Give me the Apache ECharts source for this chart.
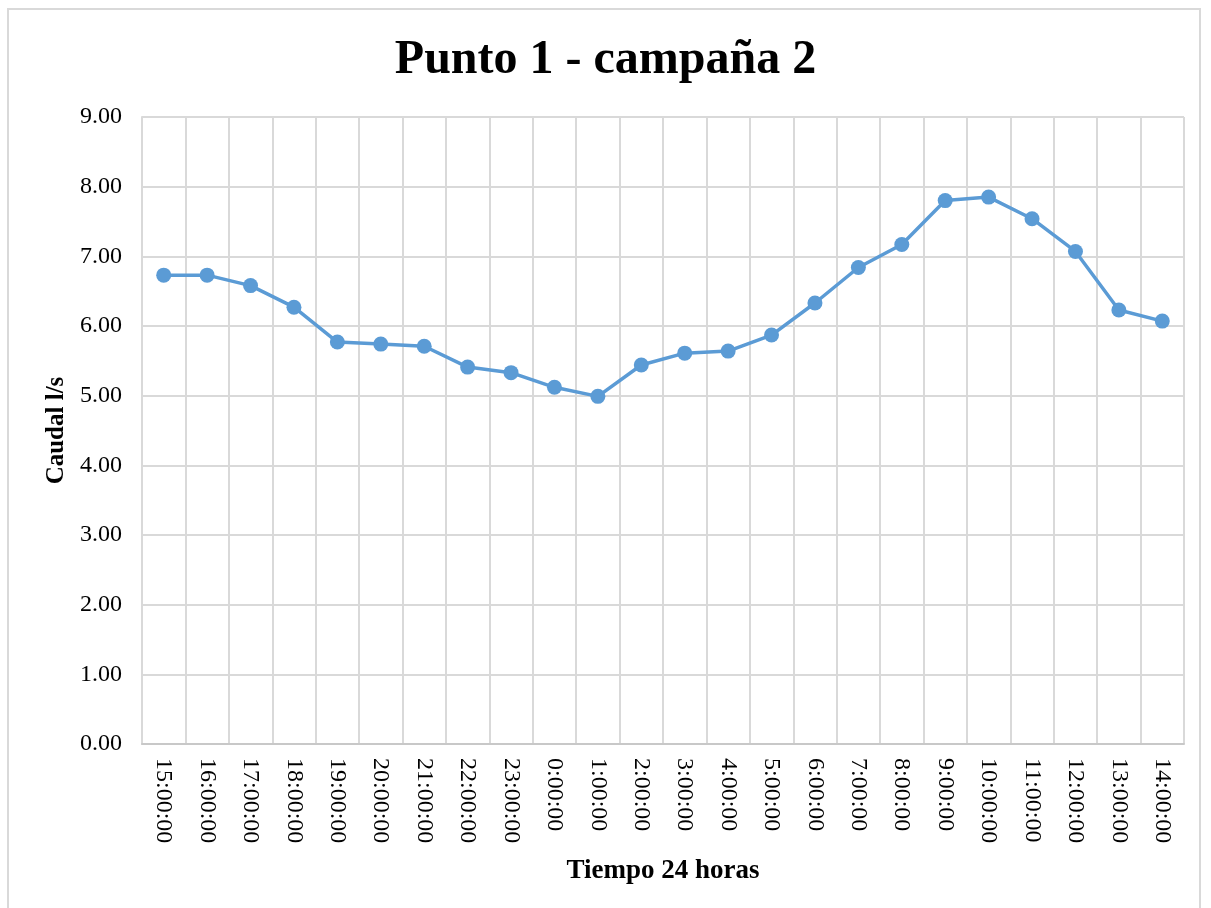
<!DOCTYPE html>
<html>
<head>
<meta charset="utf-8">
<script src="https://cdn.jsdelivr.net/npm/echarts@6/dist/echarts.min.js"></script>
<style>
html,body{margin:0;padding:0;background:#fff;}
#frame{position:absolute;left:7px;top:8px;width:1194px;height:910px;border:2px solid #d9d9d9;box-sizing:border-box;}
#chart{position:absolute;left:0;top:0;width:1211px;height:908px;}
</style>
</head>
<body>
<div id="frame"></div>
<div id="chart"></div>
<script>
const titleText = 'Punto 1 - campaña 2';
const categories = ['15:00:00','16:00:00','17:00:00','18:00:00','19:00:00','20:00:00','21:00:00','22:00:00','23:00:00','0:00:00','1:00:00','2:00:00','3:00:00','4:00:00','5:00:00','6:00:00','7:00:00','8:00:00','9:00:00','10:00:00','11:00:00','12:00:00','13:00:00','14:00:00'];
const caudal = [6.73,6.73,6.58,6.27,5.77,5.74,5.71,5.41,5.33,5.12,4.99,5.44,5.61,5.64,5.87,6.33,6.84,7.17,7.80,7.85,7.54,7.07,6.23,6.07];
const yAxisName = 'Caudal l/s';
const xAxisName = 'Tiempo 24 horas';

const font = '"Liberation Serif","Times New Roman",serif';
const chart = echarts.init(document.getElementById('chart'));
chart.setOption({
  animation:false,
  title:{text:titleText,left:'center',top:32,textStyle:{fontFamily:font,fontSize:48,fontWeight:'bold',color:'#000'}},
  grid:{left:142,right:27,top:117,bottom:164,containLabel:false},
  xAxis:{
    type:'category',data:categories,boundaryGap:true,
    name:xAxisName,nameLocation:'middle',nameGap:114,
    nameTextStyle:{fontFamily:font,fontSize:27,fontWeight:'bold',color:'#000'},
    axisLine:{lineStyle:{color:'#c8c8c8',width:2}},
    axisTick:{show:false},
    splitLine:{show:true,lineStyle:{color:'#d9d9d9',width:2}},
    axisLabel:{rotate:-90,margin:14,fontFamily:font,fontSize:24,color:'#000',interval:0}
  },
  yAxis:{
    type:'value',min:0,max:9,interval:1,
    name:yAxisName,nameLocation:'middle',nameGap:72,nameRotate:90,
    nameTextStyle:{fontFamily:font,fontSize:25,fontWeight:'bold',color:'#000'},
    axisLine:{show:true,lineStyle:{color:'#d9d9d9',width:2}},
    axisTick:{show:false},
    splitLine:{lineStyle:{color:'#d9d9d9',width:2}},
    axisLabel:{margin:20,fontFamily:font,fontSize:24,color:'#000',formatter:v=>v.toFixed(2)}
  },
  series:[{
    type:'line',data:caudal,
    symbol:'circle',symbolSize:15,
    lineStyle:{color:'#5B9BD5',width:3.5},
    itemStyle:{color:'#5B9BD5'}
  }]
});
</script>
</body>
</html>
